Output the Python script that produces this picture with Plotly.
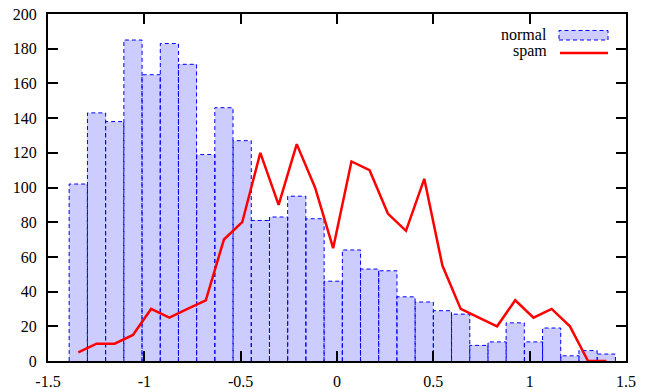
import plotly.graph_objects as go

# ---- data ----
bin_centers = [-1.343, -1.248, -1.154, -1.059, -0.965, -0.870, -0.776, -0.681,
               -0.587, -0.492, -0.398, -0.303, -0.209, -0.114, -0.020, 0.075,
               0.169, 0.264, 0.358, 0.453, 0.547, 0.642, 0.736, 0.831, 0.925,
               1.020, 1.114, 1.209, 1.303, 1.398]
bin_width = 0.0945
normal = [102, 143, 138, 185, 165, 183, 171, 119, 146, 127, 81, 83, 95, 82, 46,
          64, 53, 52, 37, 34, 29, 27, 9, 11, 22, 11, 19, 3, 6, 4]
spam = [5, 10, 10, 15, 30, 25, 30, 35, 70, 80, 120, 90, 125, 100, 65,
        115, 110, 85, 75, 105, 55, 30, 25, 20, 35, 25, 30, 20, 0, 0]
x_ticks = [-1.5, -1, -0.5, 0, 0.5, 1, 1.5]
x_tick_labels = ["-1.5", "-1", "-0.5", "0", "0.5", "1", "1.5"]
y_ticks = list(range(0, 201, 20))

FONT = "Liberation Serif, DejaVu Serif, serif"
FILL = "#ccccff"
EDGE = "#0000ff"

fig = go.Figure()

fig.add_trace(go.Bar(x=bin_centers, y=normal, width=bin_width,
                     marker=dict(color=FILL, line=dict(width=0)),
                     showlegend=False, hoverinfo="skip"))

# dashed outlines of bars
ox, oy = [], []
for c, h in zip(bin_centers, normal):
    x0, x1 = c - bin_width / 2, c + bin_width / 2
    ox += [x0, x0, x1, x1, None]
    oy += [0, h, h, 0, None]
fig.add_trace(go.Scatter(x=ox, y=oy, mode="lines",
                         line=dict(color=EDGE, width=1, dash="4px,3px"),
                         showlegend=False, hoverinfo="skip"))

fig.add_trace(go.Scatter(x=bin_centers, y=spam, mode="lines",
                         line=dict(color="#ff0000", width=2.5),
                         showlegend=False))

# manual gnuplot-style legend (text left, sample right)
W, H = 656, 389
ml, mr, mt, mb = 48, 30, 14, 28
pw, ph = W - ml - mr, H - mt - mb
def px(x):
    return (x - ml) / pw
def py(y):
    return 1 - (y - mt) / ph

fig.add_annotation(x=px(549), y=py(35), xref="paper", yref="paper",
                   text="normal", showarrow=False, xanchor="right",
                   yanchor="middle", font=dict(family=FONT, size=16, color="black"))
fig.add_annotation(x=px(549), y=py(51), xref="paper", yref="paper",
                   text="spam", showarrow=False, xanchor="right",
                   yanchor="middle", font=dict(family=FONT, size=16, color="black"))
fig.add_shape(type="rect", xref="paper", yref="paper",
              x0=px(559), x1=px(608), y0=py(40), y1=py(30.5),
              fillcolor=FILL, line=dict(color=EDGE, width=1, dash="4px,3px"))
fig.add_shape(type="line", xref="paper", yref="paper",
              x0=px(560), x1=px(608), y0=py(53), y1=py(53),
              line=dict(color="#ff0000", width=2.5))

axis_common = dict(showline=True, linecolor="black", linewidth=2, mirror="allticks",
                   ticks="inside", ticklen=10, tickwidth=1.5, tickcolor="black",
                   showgrid=False, zeroline=False, automargin=False,
                   tickfont=dict(family=FONT, size=16, color="black"))

fig.update_xaxes(range=[-1.5, 1.5], tickvals=x_ticks, ticktext=x_tick_labels,
                 ticklabelstandoff=5, **axis_common)
fig.update_yaxes(range=[0, 200], tickvals=y_ticks, ticklabelstandoff=6,
                 **axis_common)

fig.update_layout(width=W, height=H, margin=dict(l=ml, r=mr, t=mt, b=mb),
                  plot_bgcolor="white", paper_bgcolor="white",
                  bargap=0, showlegend=False)

fig.write_html("out.html")
